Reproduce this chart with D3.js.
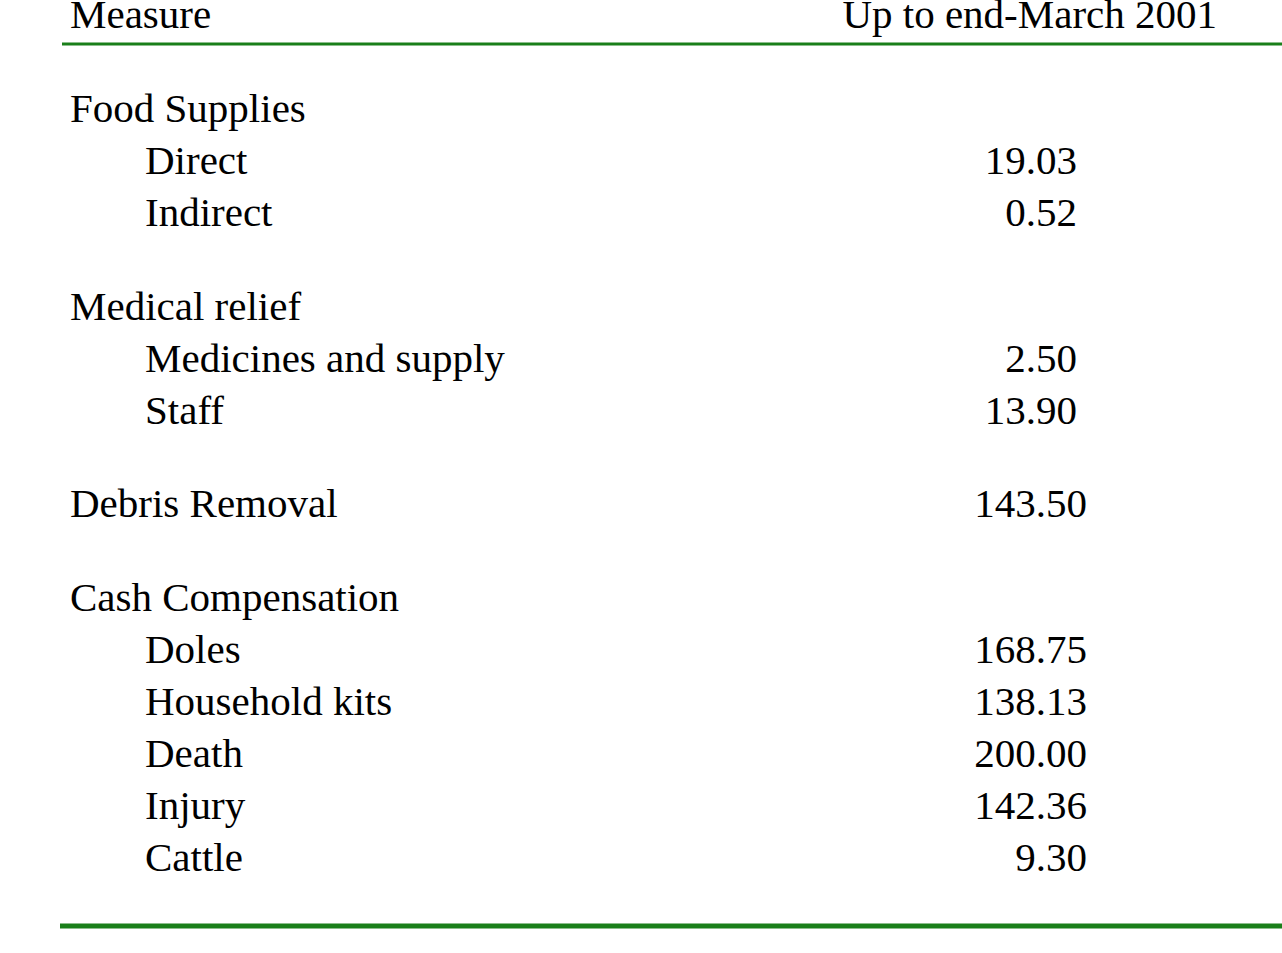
<!DOCTYPE html>
<html><head><meta charset="utf-8">
<script src="https://cdn.jsdelivr.net/npm/d3@7/dist/d3.min.js"></script>
<style>body{margin:0;background:#fff}svg{display:block}</style>
</head><body>
<script>
const headers = ["Measure", "Up to end-March 2001"];
const groups = ["Food Supplies", "Medical relief", "Debris Removal", "Cash Compensation"];
const items = [
  {group: 0, label: "Direct", value: "19.03"},
  {group: 0, label: "Indirect", value: "0.52"},
  {group: 1, label: "Medicines and supply", value: "2.50"},
  {group: 1, label: "Staff", value: "13.90"},
  {group: 2, label: null, value: "143.50"},
  {group: 3, label: "Doles", value: "168.75"},
  {group: 3, label: "Household kits", value: "138.13"},
  {group: 3, label: "Death", value: "200.00"},
  {group: 3, label: "Injury", value: "142.36"},
  {group: 3, label: "Cattle", value: "9.30"}
];

const W = 1282, H = 953;
const svg = d3.select("body").append("svg").attr("width", W).attr("height", H)
  .style("font-family", "'Liberation Serif','Times New Roman',serif").style("font-size", "41px");

// Build row list
const rows = [];
let pos = 0;
groups.forEach((g, gi) => {
  const its = items.filter(d => d.group === gi);
  if (its.length === 1 && its[0].label === null) {
    rows.push({text: g, indent: 0, value: its[0].value, gi, pos});
    pos += 1;
  } else {
    rows.push({text: g, indent: 0, value: null, gi, pos}); pos += 1;
    its.forEach(d => { rows.push({text: d.label, indent: 1, value: d.value, gi, pos}); pos += 1; });
  }
  pos += 0.8;
});
const y = d3.scaleLinear().domain([0, 1]).range([122, 174]);

svg.append("text").attr("x", 70).attr("y", 28).text(headers[0]);
svg.append("text").attr("x", 1217).attr("y", 28).attr("text-anchor", "end").text(headers[1]);
svg.append("line").attr("x1", 62).attr("x2", W).attr("y1", 44).attr("y2", 44)
  .attr("stroke", "#1a7f1a").attr("stroke-width", 3);

const g = svg.selectAll("g.row").data(rows).join("g").attr("class", "row");
g.append("text").attr("x", d => d.indent ? 145 : 70).attr("y", d => y(d.pos)).text(d => d.text);
g.filter(d => d.value).append("text")
  .attr("x", d => d.gi < 2 ? 1077 : 1087).attr("y", d => y(d.pos))
  .attr("text-anchor", "end").text(d => d.value);

svg.append("line").attr("x1", 60).attr("x2", W).attr("y1", 926).attr("y2", 926)
  .attr("stroke", "#1a7f1a").attr("stroke-width", 5);
</script>
</body></html>
